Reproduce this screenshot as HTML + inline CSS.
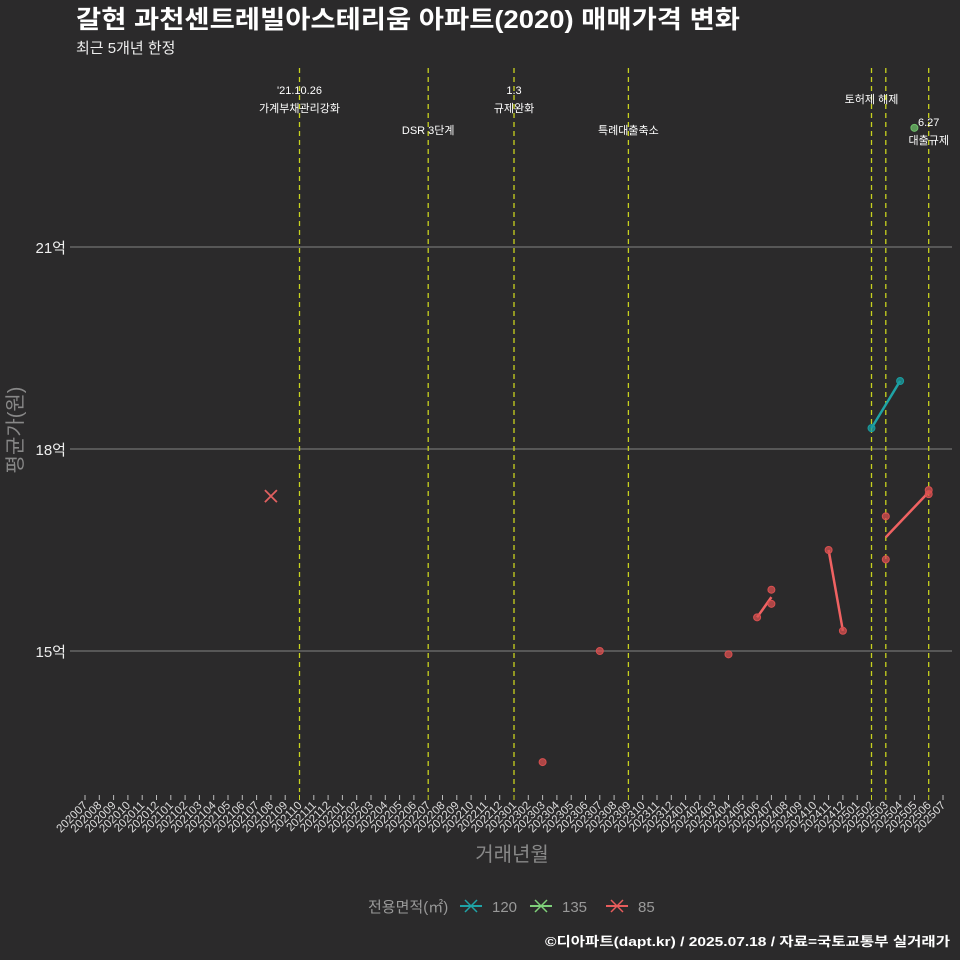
<!DOCTYPE html>
<html><head><meta charset="utf-8"><style>
html,body{margin:0;background:#2b2a2b;overflow:hidden;}
svg{display:block;}
text{font-family:"Liberation Sans","Noto Sans CJK KR",sans-serif;}
</style></head><body>
<svg id="c" width="960" height="960" xmlns="http://www.w3.org/2000/svg">
<rect width="960" height="960" fill="#2b2a2b"/>
<text x="76" y="28" font-size="25" font-weight="bold" fill="#fff" textLength="664" lengthAdjust="spacingAndGlyphs">갈현 과천센트레빌아스테리움 아파트(2020) 매매가격 변화</text>
<text x="76" y="53" font-size="15" fill="#eee">최근 5개년 한정</text>
<g id="grid"></g><g id="vl"></g><g id="marks"></g><g id="xt"></g>
<text transform="translate(22,430) rotate(-90)" text-anchor="middle" font-size="20" fill="#888">평균가(원)</text>
<text x="512" y="861" text-anchor="middle" font-size="20" fill="#888">거래년월</text>
<g>
<text x="368" y="912" font-size="15" fill="#999">전용면적(㎡)</text>
<g><line x1="460" y1="906" x2="482" y2="906" stroke="#1fa3a6" stroke-width="2"/><path d="M465 900l12 12M477 900l-12 12" stroke="#1fa3a6" stroke-width="1.5"/><text x="492" y="912" font-size="15" fill="#999">120</text></g>
<g><line x1="530" y1="906" x2="552" y2="906" stroke="#7fd07a" stroke-width="2"/><path d="M535 900l12 12M547 900l-12 12" stroke="#7fd07a" stroke-width="1.5"/><text x="562" y="912" font-size="15" fill="#999">135</text></g>
<g><line x1="606" y1="906" x2="628" y2="906" stroke="#e85c5c" stroke-width="2"/><path d="M611 900l12 12M623 900l-12 12" stroke="#e85c5c" stroke-width="1.5"/><text x="638" y="912" font-size="15" fill="#999">85</text></g>
</g>
<text x="545" y="946" font-size="13" font-weight="bold" fill="#fff" textLength="405" lengthAdjust="spacingAndGlyphs">©디아파트(dapt.kr) / 2025.07.18 / 자료=국토교통부 실거래가</text>
</svg>
<script>
const months=[];for(let y=2020;y<=2025;y++)for(let m=1;m<=12;m++){const s=y+String(m).padStart(2,'0');if(s>='202007'&&s<='202507')months.push(s);}
const yTicks=[15,18,21];
const events=[{m:'202110',l:["'21.10.26","가계부채관리강화"],y:94},{m:'202207',l:["DSR 3단계"],y:134},{m:'202301',l:["1.3","규제완화"],y:94},{m:'202309',l:["특례대출축소"],y:134},{m:'202502',l:["토허제 해제"],y:103},{m:'202503',l:[],y:0},{m:'202506',l:["6.27","대출규제"],y:126}];
const s85pts=[['202303',13.35],['202307',15.0],['202404',14.95],['202406',15.5],['202407',15.91],['202407',15.70],['202411',16.5],['202412',15.3],['202503',17.0],['202503',16.36],['202506',17.39],['202506',17.33]];
const s85line=[[['202406',15.5],['202407',15.8]],[['202411',16.5],['202412',15.3]],[['202503',16.69],['202506',17.36]]];
const s120pts=[['202502',18.31],['202504',19.01]];
const s135pts=[['202505',22.77]];
const xMarks=[['202108',17.3]];
const X=m=>85+months.indexOf(m)*14.3;
const Y=v=>449-(v-18)*67.33;
const NS='http://www.w3.org/2000/svg';
function mk(p,t,a){const e=document.createElementNS(NS,t);for(const k in a)e.setAttribute(k,a[k]);document.getElementById(p).appendChild(e);return e;}
yTicks.forEach(v=>{const l=mk('grid','line',{x1:70,x2:952,y1:Y(v),y2:Y(v),stroke:'#666','stroke-width':1.5});


const t=mk('grid','text',{x:66,y:Y(v)+6,'text-anchor':'end','font-size':15,fill:'#eee'});t.textContent=v+'억';

});
events.forEach(e=>{const x=X(e.m);const l=mk('vl','line',{x1:x,x2:x,y1:68,y2:792,stroke:'#c8d21e','stroke-width':1.3,'stroke-dasharray':'5,4'});


e.l.forEach((s,i)=>{const t=mk('vl','text',{x:x,y:e.y+i*18,'text-anchor':'middle','font-size':11,fill:'#fff'});t.textContent=s;

});});
months.forEach(m=>{const x=X(m);const hl=events.some(e=>e.m===m);mk('xt','line',{x1:x,x2:x,y1:795,y2:800,stroke:hl?'#c8d21e':'#bbb','stroke-width':1});
const t=mk('xt','text',{transform:`translate(${x+3},806) rotate(-45)`,'text-anchor':'end','font-size':11.5,fill:'#ddd'});t.textContent=m;

});
s85line.forEach(s=>{const l=mk('marks','line',{x1:X(s[0][0]),y1:Y(s[0][1]),x2:X(s[1][0]),y2:Y(s[1][1]),stroke:'#f06262','stroke-width':2.5});

});
const l120=mk('marks','line',{x1:X(s120pts[0][0]),y1:Y(s120pts[0][1]),x2:X(s120pts[1][0]),y2:Y(s120pts[1][1]),stroke:'#1fa3a6','stroke-width':2.5});


function pts(arr,c,n){arr.forEach(p=>{const e=mk('marks','circle',{cx:X(p[0]),cy:Y(p[1]),r:3.5,fill:c,'fill-opacity':0.75,stroke:c});

});}
pts(s85pts,'#d85050','point-85');pts(s120pts,'#1a9da0','point-120');pts(s135pts,'#6fbf6a','point-135');
xMarks.forEach(p=>{const x=X(p[0]),y=Y(p[1]);const e=mk('marks','path',{d:`M${x-6} ${y-6}L${x+6} ${y+6}M${x+6} ${y-6}L${x-6} ${y+6}`,stroke:'#e06060','stroke-width':1.8});

});
</script>
</body></html>
